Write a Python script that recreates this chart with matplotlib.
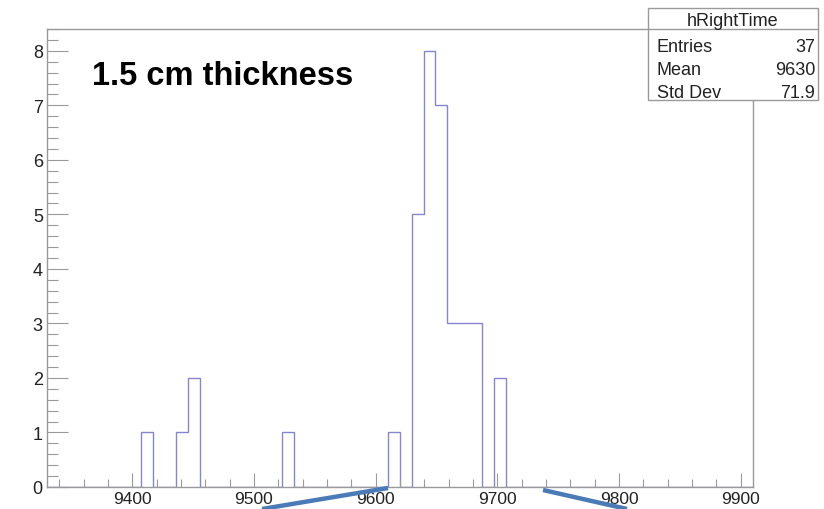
import numpy as np
import matplotlib
matplotlib.use("Agg")
import matplotlib.pyplot as plt
from matplotlib.patches import Rectangle
from matplotlib.lines import Line2D
from matplotlib.ticker import MultipleLocator

plt.rcParams['font.family'] = ['Liberation Sans', 'DejaVu Sans']

## hRightTime histogram, 60 bins from 9330 to 9910
x_lo = 9330
x_hi = 9910
n_bins = 60
counts = [0, 0, 0, 0, 0, 0, 0, 0, 1, 0,
          0, 1, 2, 0, 0, 0, 0, 0, 0, 0,
          1, 0, 0, 0, 0, 0, 0, 0, 0, 1,
          0, 5, 8, 7, 3, 3, 3, 0, 2, 0,
          0, 0, 0, 0, 0, 0, 0, 0, 0, 0,
          0, 0, 0, 0, 0, 0, 0, 0, 0, 0]
x_ticks = [9400, 9500, 9600, 9700, 9800, 9900]
y_ticks = [0, 1, 2, 3, 4, 5, 6, 7, 8]

hist_name = "hRightTime"
stat_rows = [("Entries", "37"), ("Mean", "9630"), ("Std Dev", "71.9")]
label = "1.5 cm thickness"

W, H = 824, 510
fig = plt.figure(figsize=(W/100, H/100), dpi=100)
fig.patch.set_facecolor("white")

# axes frame in pixels: left 47, right 753, top 30, bottom 488
ax = fig.add_axes([47/W, (H-488)/H, (753-47)/W, (488-30)/H])

edges = np.linspace(x_lo, x_hi, n_bins + 1)
ax.stairs(counts, edges, color="#8585d2", linewidth=1.0, baseline=0)

ax.set_xlim(x_lo, x_hi)
ax.set_ylim(0, max(counts)*1.05)
ax.set_xticks(x_ticks)
ax.set_yticks(y_ticks)
ax.xaxis.set_minor_locator(MultipleLocator(20))
ax.yaxis.set_minor_locator(MultipleLocator(0.2))

grey = "#9a9a9a"
for s in ax.spines.values():
    s.set_color(grey)
    s.set_linewidth(1.0)
ax.tick_params(axis="x", which="major", direction="in", length=10, width=0.8,
               color=grey, labelsize=12.5, labelcolor="#222222", pad=3)
ax.tick_params(axis="x", which="minor", direction="in", length=5.5, width=0.8,
               color=grey)
ax.tick_params(axis="y", which="major", direction="in", length=15, width=0.8,
               color=grey, labelsize=13, labelcolor="#222222", pad=3)
ax.tick_params(axis="y", which="minor", direction="in", length=8, width=0.8,
               color=grey)

ax.text((92-47)/706, (488-85)/458, label, transform=ax.transAxes,
        fontsize=23.5, fontweight="bold", va="baseline", ha="left")

# stats box
bx0, bx1, by0, by1, bsep = 648, 818, 9, 101, 30
fig.add_artist(Rectangle((bx0/W, (H-by1)/H), (bx1-bx0)/W, (by1-by0)/H,
                         transform=fig.transFigure, facecolor="white",
                         edgecolor=grey, linewidth=1.0, zorder=5))
fig.add_artist(Line2D([bx0/W, bx1/W], [(H-bsep)/H, (H-bsep)/H],
                      transform=fig.transFigure, color=grey, linewidth=1.0, zorder=6))
fig.text((bx0+bx1)/2/W, (H-26)/H, hist_name, ha="center", va="baseline",
         fontsize=13, color="#222222", zorder=7)
for i, (k, v) in enumerate(stat_rows):
    yb = 52 + i*23
    fig.text(657/W, (H-yb)/H, k, ha="left", va="baseline", fontsize=13,
             color="#222222", zorder=7)
    fig.text(815/W, (H-yb)/H, v, ha="right", va="baseline", fontsize=13,
             color="#222222", zorder=7)

# blue connector strokes along the bottom edge
fig.add_artist(Line2D([262/W, 388/W], [(H-510)/H, (H-489)/H], transform=fig.transFigure,
                      color="#4a7bb7", linewidth=3.2, solid_capstyle="butt", zorder=8))
fig.add_artist(Line2D([543/W, 627/W], [(H-491)/H, (H-510)/H], transform=fig.transFigure,
                      color="#4a7bb7", linewidth=3.2, solid_capstyle="butt", zorder=8))

fig.savefig("out.png", dpi=100)
